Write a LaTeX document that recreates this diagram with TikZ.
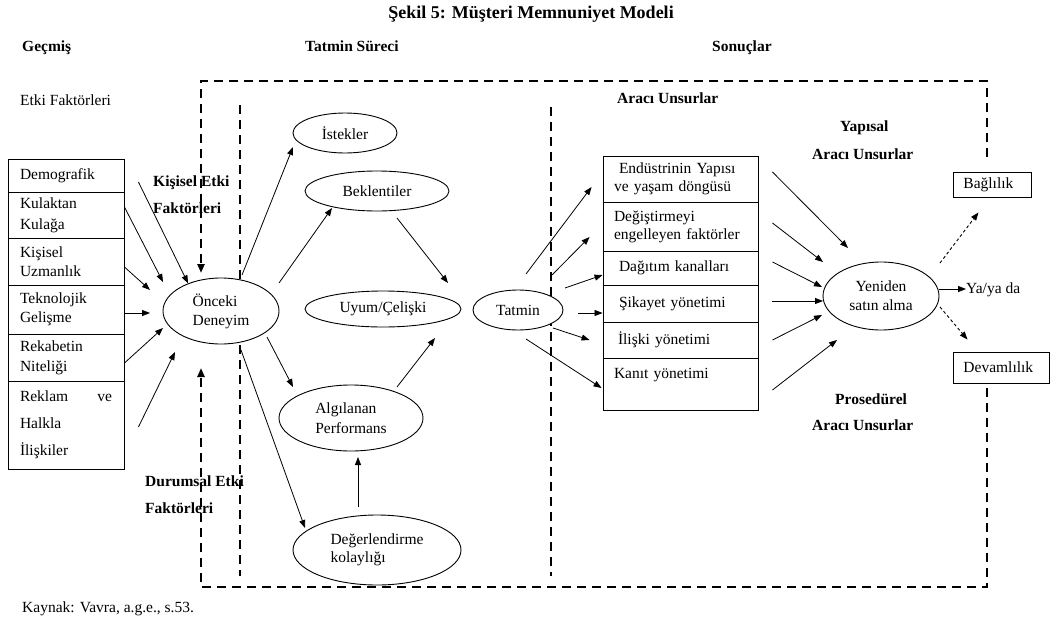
\documentclass[tikz,border=0pt]{standalone}
\usepackage{fontspec}
\setmainfont{Liberation Serif}
\usetikzlibrary{shapes.geometric,arrows.meta}
\begin{document}
\begin{tikzpicture}[x=1pt,y=-1pt,
  txt/.style={inner sep=0pt, anchor=west, text height=11pt, text depth=2pt, font=\fontsize{15.5}{18}\selectfont},
  bld/.style={txt, font=\fontsize{15.5}{18}\selectfont\bfseries},
  ell/.style={ellipse, draw, line width=0.9pt, fill=white, inner sep=0pt, align=left, font=\fontsize{15.5}{19}\selectfont},
  cell/.style={rectangle, draw, line width=0.9pt, inner ysep=0pt, inner xsep=12pt, align=left, font=\fontsize{15.5}{20}\selectfont},
  rcell/.style={cell, inner xsep=11pt, text width=133pt, minimum width=155pt},
  lcell/.style={cell, text width=92pt, minimum width=116pt},
  arr/.style={line width=0.8pt, -{Triangle[length=8pt,width=6pt]}},
  darr/.style={line width=0.9pt, dash pattern=on 3pt off 2.5pt, -{Triangle[length=8pt,width=6pt]}},
  bigdash/.style={line width=2.3pt, dash pattern=on 9pt off 6pt},
  bigarr/.style={bigdash, -{Triangle[length=9pt,width=7pt]}}
]
\useasboundingbox (0,0) rectangle (1051,629);

% inner dashed separators
\draw[bigdash] (240,105) -- (240,576);
\draw[bigdash] (551,107) -- (551,576);

% texts
\node[bld, anchor=center, font=\fontsize{18}{20}\selectfont\bfseries] (title) at (531,14) {Şekil 5: Müşteri Memnuniyet Modeli};
\node[bld] (gecmis) at (22,47) {Geçmiş};
\node[bld] (tsurec) at (305,47) {Tatmin Süreci};
\node[bld] (sonuc) at (712,47) {Sonuçlar};
\node[txt] (etki) at (20,101) {Etki Faktörleri};
\node[bld] (araci1) at (617,99) {Aracı Unsurlar};
\node[bld] (yapisal) at (840,127) {Yapısal};
\node[bld] (araci2) at (812,155) {Aracı Unsurlar};
\node[bld] (kisisel1) at (153,182) {Kişisel Etki};
\node[bld] (kisisel2) at (153,209) {Faktörleri};
\node[bld] (durumsal1) at (145,482) {Durumsal Etki};
\node[bld] (durumsal2) at (145,509) {Faktörleri};
\node[bld] (prosed) at (835,400) {Prosedürel};
\node[bld] (araci3) at (812,426) {Aracı Unsurlar};
\node[txt] (kaynak) at (22,608) {Kaynak: Vavra, a.g.e., s.53.};

% left factor boxes
\node[lcell, minimum height=33pt] (r1) at (66,175.5) {Demografik};
\node[lcell, minimum height=46pt, font=\fontsize{15.5}{21}\selectfont] (r2) at (66,215) {Kulaktan\\Kulağa};
\node[lcell, minimum height=47pt, font=\fontsize{15.5}{19}\selectfont] (r3) at (66,261.5) {Kişisel\\Uzmanlık};
\node[lcell, minimum height=49pt, font=\fontsize{15.5}{19}\selectfont] (r4) at (66,309.5) {Teknolojik\\Gelişme};
\node[lcell, minimum height=47pt, font=\fontsize{15.5}{20}\selectfont] (r5) at (66,357.5) {Rekabetin\\Niteliği};
\node[lcell, minimum height=88pt, font=\fontsize{15.5}{27}\selectfont] (r6) at (66,425) {Reklam\hfill ve\\Halkla\\İlişkiler};

% process ellipses
\node[ell, minimum width=116pt, minimum height=66pt] (onceki) at (221,311) {Önceki\\Deneyim};
\node[ell, minimum width=104pt, minimum height=40pt] (istek) at (345,133) {İstekler};
\node[ell, minimum width=144pt, minimum height=40pt] (bek) at (377,191) {Beklentiler};
\node[ell, minimum width=156pt, minimum height=36pt] (uyum) at (383,309) {Uyum/Çelişki};
\node[ell, minimum width=90pt, minimum height=40pt] (tatmin) at (518,310) {Tatmin};
\node[ell, minimum width=144pt, minimum height=66pt, font=\fontsize{15.5}{20}\selectfont] (alg) at (351,418) {Algılanan\\Performans};
\node[ell, minimum width=168pt, minimum height=70pt, font=\fontsize{15.5}{18}\selectfont] (deg) at (377,550) {Değerlendirme\\kolaylığı};
\node[ell, minimum width=116pt, minimum height=68pt, align=center] (yeni) at (881,296) {Yeniden\\satın alma};

% right mediator boxes
\node[rcell, minimum height=46pt, font=\fontsize{15.5}{18}\selectfont] (b1) at (680.5,179) {\hspace*{5pt}Endüstrinin Yapısı\\ve yaşam döngüsü};
\node[rcell, minimum height=49pt, font=\fontsize{15.5}{18}\selectfont] (b2) at (680.5,226.5) {Değiştirmeyi\\engelleyen faktörler};
\node[rcell, minimum height=34pt] (b3) at (680.5,268) {\hspace*{5pt}Dağıtım kanalları};
\node[rcell, minimum height=37pt] (b4) at (680.5,303.5) {\hspace*{5pt}Şikayet yönetimi};
\node[rcell, minimum height=36pt] (b5) at (680.5,340) {\hspace*{4pt}İlişki yönetimi};
\node[rcell, minimum height=52pt, font=\fontsize{15.5}{22}\selectfont] (b6) at (680.5,384) {Kanıt yönetimi\\\mbox{}};

% outcomes
\node[cell, anchor=west, inner xsep=10pt, text width=58pt, minimum height=25pt] (bag) at (953,184.5) {Bağlılık};
\node[cell, anchor=west, inner xsep=10pt, text width=76pt, minimum height=31pt] (dev) at (953,367.5) {Devamlılık};
\node[txt] (yaya) at (966,289) {Ya/ya da};

% outer dashed frame with influence arrows
\draw[bigarr] (987,157) -- (987,81) -- (201,81) -- ([shift={(-20,-38)}]onceki.center);
\draw[bigarr] (987,388) -- (987,587) -- (201,587) -- ([shift={(-20,57)}]onceki.center);

% antecedents -> Önceki Deneyim
\draw[arr] ([shift={(14,6.5)}]r1.east) -- (onceki.140);
\draw[arr] ([shift={(0,-8)}]r2.east) -- ([shift={(-58,-29)}]onceki.center);
\draw[arr] ([shift={(0,5.5)}]r3.east) -- ([shift={(-71,-21)}]onceki.center);
\draw[arr] ([shift={(0,3.5)}]r4.east) -- ([shift={(-71,2)}]onceki.center);
\draw[arr] ([shift={(0,5.5)}]r5.east) -- ([shift={(-58,17)}]onceki.center);
\draw[arr] ([shift={(14,2)}]r6.east) -- ([shift={(-46,41)}]onceki.center);

% satisfaction process
\draw[arr] ([shift={(21,-36)}]onceki.center) -- ([shift={(-52,14)}]istek.center);
\draw[arr] ([shift={(58,-28)}]onceki.center) -- ([shift={(-45,17)}]bek.center);
\draw[arr] ([shift={(20,27)}]bek.center) -- ([shift={(65,-26)}]uyum.center);
\draw[arr] ([shift={(46,-31)}]alg.center) -- ([shift={(52,29)}]uyum.center);
\draw[arr] ([shift={(46,26)}]onceki.center) -- ([shift={(-58,-31)}]alg.center);
\draw[arr] ([shift={(20,39)}]onceki.center) -- ([shift={(-72,-22)}]deg.center);
\draw[arr] ([shift={(-19,-43)}]deg.center) -- ([shift={(7,39)}]alg.center);

% Tatmin -> mediators
\draw[arr] ([shift={(8,-36)}]tatmin.center) -- ([shift={(-11,8)}]b1.west);
\draw[arr] ([shift={(34,-35)}]tatmin.center) -- ([shift={(-13,10.5)}]b2.west);
\draw[arr] ([shift={(47,-22)}]tatmin.center) -- ([shift={(0,7)}]b3.west);
\draw[arr] ([shift={(60,3)}]tatmin.center) -- ([shift={(0,9.5)}]b4.west);
\draw[arr] ([shift={(35,18)}]tatmin.center) -- ([shift={(-13,0)}]b5.west);
\draw[arr] ([shift={(8,29)}]tatmin.center) -- ([shift={(-1,4)}]b6.west);

% mediators -> Yeniden satın alma
\draw[arr] ([shift={(14,-7)}]b1.east) -- ([shift={(-33,-48)}]yeni.center);
\draw[arr] ([shift={(14,-3.5)}]b2.east) -- ([shift={(-58,-34)}]yeni.center);
\draw[arr] ([shift={(14,-6)}]b3.east) -- ([shift={(-59,-9)}]yeni.center);
\draw[arr] ([shift={(14,-2.5)}]b4.east) -- ([shift={(-58,5)}]yeni.center);
\draw[arr] ([shift={(14,0)}]b5.east) -- ([shift={(-59,19)}]yeni.center);
\draw[arr] ([shift={(14,6)}]b6.east) -- ([shift={(-44,44)}]yeni.center);

% outcomes
\draw[darr] ([shift={(59,-33)}]yeni.center) -- ([shift={(-14,15)}]bag.south);
\draw[arr] ([shift={(58,-7)}]yeni.center) -- (yaya.west);
\draw[darr] ([shift={(59,11)}]yeni.center) -- ([shift={(-34,-12)}]dev.north);
\end{tikzpicture}
\end{document}
